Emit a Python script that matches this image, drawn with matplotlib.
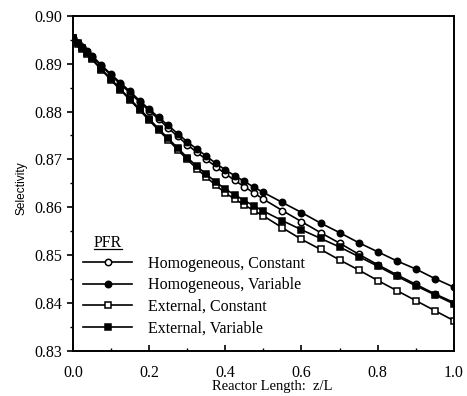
import matplotlib
matplotlib.use("Agg")
import matplotlib.pyplot as plt
from matplotlib.lines import Line2D
from matplotlib.ticker import MultipleLocator

# marker positions along the reactor (z/L)
z = [0.0, 0.0125, 0.025, 0.0375, 0.05, 0.075, 0.1, 0.125, 0.15, 0.175, 0.2,
     0.225, 0.25, 0.275, 0.3, 0.325, 0.35, 0.375, 0.4, 0.425, 0.45, 0.475,
     0.5, 0.55, 0.6, 0.65, 0.7, 0.75, 0.8, 0.85, 0.9, 0.95, 1.0]

homog_const = [0.8953, 0.8944, 0.8934, 0.8925, 0.8915, 0.8895, 0.8876, 0.8857,
               0.8839, 0.8820, 0.8802, 0.8784, 0.8766, 0.8748, 0.8731, 0.8715,
               0.8700, 0.8685, 0.8670, 0.8656, 0.8643, 0.8630, 0.8617, 0.8593,
               0.8570, 0.8547, 0.8525, 0.8502, 0.8480, 0.8459, 0.8439, 0.8419,
               0.8401]
homog_var = [0.8953, 0.8944, 0.8935, 0.8926, 0.8917, 0.8897, 0.8878, 0.8860,
             0.8842, 0.8823, 0.8805, 0.8788, 0.8771, 0.8754, 0.8737, 0.8722,
             0.8707, 0.8692, 0.8678, 0.8666, 0.8654, 0.8642, 0.8631, 0.8610,
             0.8589, 0.8567, 0.8547, 0.8526, 0.8507, 0.8488, 0.8471, 0.8451,
             0.8433]
ext_const = [0.8953, 0.8942, 0.8931, 0.8920, 0.8909, 0.8887, 0.8866, 0.8845,
             0.8824, 0.8803, 0.8782, 0.8761, 0.8741, 0.8720, 0.8700, 0.8681,
             0.8663, 0.8646, 0.8630, 0.8617, 0.8605, 0.8593, 0.8582, 0.8557,
             0.8533, 0.8512, 0.8490, 0.8469, 0.8447, 0.8426, 0.8405, 0.8384,
             0.8363]
ext_var = [0.8953, 0.8943, 0.8932, 0.8922, 0.8911, 0.8889, 0.8868, 0.8847,
           0.8826, 0.8806, 0.8785, 0.8764, 0.8744, 0.8724, 0.8704, 0.8686,
           0.8669, 0.8653, 0.8638, 0.8626, 0.8614, 0.8603, 0.8592, 0.8572,
           0.8553, 0.8535, 0.8517, 0.8497, 0.8477, 0.8456, 0.8436, 0.8417,
           0.8398]

labels = ["Homogeneous, Constant", "Homogeneous, Variable",
          "External, Constant", "External, Variable"]

plt.rcParams["font.family"] = "Liberation Serif"

fig = plt.figure(figsize=(4.67, 3.96), dpi=100)
ax = fig.add_axes([0.156, 0.114, 0.816, 0.846])

series = [
    (homog_const, "o", "white"),
    (homog_var, "o", "black"),
    (ext_const, "s", "white"),
    (ext_var, "s", "black"),
]
for (vals, mk, fc), lab in zip(series, labels):
    ax.plot(z, vals, color="black", lw=1.2, marker=mk, ms=4.6,
            mfc=fc, mec="black", mew=1.1, label=lab)

ax.set_xlim(0.0, 1.0)
ax.set_ylim(0.83, 0.90)
ax.xaxis.set_major_locator(MultipleLocator(0.2))
ax.xaxis.set_minor_locator(MultipleLocator(0.1))
ax.yaxis.set_major_locator(MultipleLocator(0.01))
ax.yaxis.set_minor_locator(MultipleLocator(0.005))
ax.xaxis.set_major_formatter(plt.FormatStrFormatter("%.1f"))
ax.yaxis.set_major_formatter(plt.FormatStrFormatter("%.2f"))

ax.tick_params(axis="x", which="both", direction="in", labelsize=11.5, pad=10)
ax.tick_params(axis="y", which="both", direction="out", labelsize=11.5, pad=3)
ax.tick_params(which="major", length=4.5, width=1.2)
ax.tick_params(which="minor", length=2.5, width=1.0)
for sp in ax.spines.values():
    sp.set_linewidth(1.4)

ax.text(0.522, -0.107, "Reactor Length:  z/L", transform=ax.transAxes,
        fontsize=10.5, ha="center", va="center")
ax.text(-0.134, 0.486, "Selectivity", transform=ax.transAxes, rotation=90,
        fontsize=8.6, family="Liberation Sans", ha="center", va="center")

leg = ax.legend(loc="lower left", bbox_to_anchor=(0.0, 0.011), frameon=False,
                fontsize=11.5, numpoints=1, handlelength=3.07,
                handletextpad=0.98, labelspacing=0.36, borderaxespad=0.25)

# legend heading, underlined
pfr = ax.text(0.055, 0.322, "PFR", transform=ax.transAxes, fontsize=11.5,
              ha="left", va="center")
fig.canvas.draw()
bb = pfr.get_window_extent().transformed(fig.transFigure.inverted())
fig.add_artist(Line2D([bb.x0, bb.x1], [bb.y0 + 0.006, bb.y0 + 0.006],
                      color="black", lw=0.9, transform=fig.transFigure))

fig.savefig("out.png", dpi=100)
